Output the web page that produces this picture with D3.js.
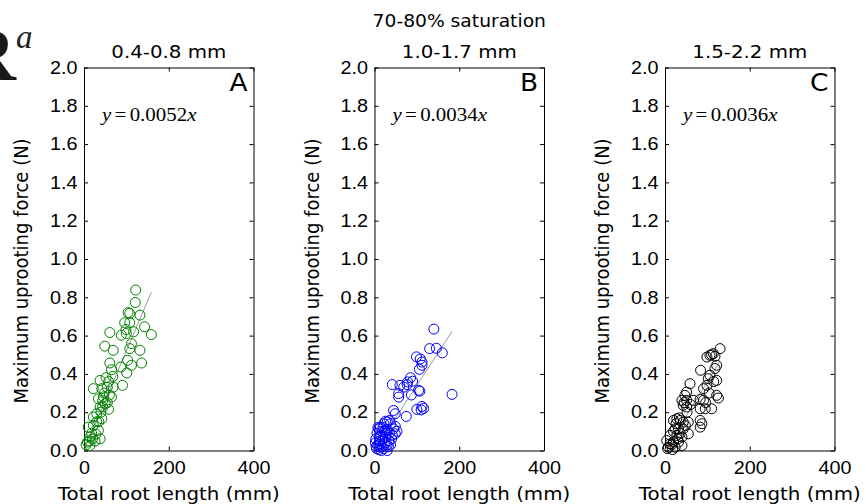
<!DOCTYPE html>
<html lang="en">
<head>
<meta charset="utf-8">
<script src="https://d3js.org/d3.v7.min.js"></script>
<style>
  body { margin: 0; background: #fff; }
  svg { display: block; background: #fff; font-family: "DejaVu Sans", sans-serif; }
  .frame path, .frame line { stroke: #000; stroke-width: 1; }
  .frame text { font-size: 18px; fill: #000; }
</style>
</head>
<body>
<svg width="866" height="504"></svg>
<script>
// ---- data ----
var supTitle = "70-80% saturation";
var diameters = ["0.4-0.8 mm", "1.0-1.7 mm", "1.5-2.2 mm"];
var letters = ["A", "B", "C"];
var slopes = [0.0052, 0.0034, 0.0036];
var xTicks = [0, 200, 400];
var yTicks = [0, 0.2, 0.4, 0.6, 0.8, 1.0, 1.2, 1.4, 1.6, 1.8, 2.0];
var xLabel = "Total root length (mm)";
var yLabel = "Maximum uprooting force (N)";

// root length (mm), force (N)
var pointsA = [
  [122,0.838],[121,0.773],[104,0.72],[108,0.716],[132,0.707],[96,0.667],[108,0.668],
  [143,0.646],[99,0.632],[61,0.616],[159,0.605],[88,0.602],[100,0.611],[117,0.62],
  [49,0.545],[69,0.523],[108,0.532],[132,0.523],[112,0.558],[61,0.457],[103,0.471],
  [136,0.457],[65,0.422],[87,0.436],[112,0.445],[101,0.405],[68,0.387],[52,0.38],
  [38,0.366],[58,0.36],[69,0.331],[91,0.34],[55,0.33],[42,0.323],[22,0.323],[48,0.3],
  [60,0.29],[34,0.27],[65,0.279],[44,0.26],[50,0.245],[38,0.227],[44,0.227],[58,0.215],
  [30,0.192],[22,0.175],[42,0.166],[35,0.15],[10,0.122],[22,0.131],[34,0.105],[18,0.09],
  [14,0.07],[38,0.061],[8,0.044],[26,0.049],[14,0.026],[5,0.03],[20,0.06],[28,0.085],
  [46,0.28],[55,0.25],[40,0.2],[30,0.15],[12,0.05]
];
var pointsB = [
  [140,0.634],[130,0.532],[146,0.534],[160,0.51],[99,0.489],[108,0.478],[112,0.462],
  [112,0.445],[106,0.424],[85,0.38],[90,0.362],[78,0.358],[42,0.344],[60,0.34],[69,0.331],
  [77,0.344],[104,0.314],[183,0.293],[57,0.297],[57,0.279],[87,0.29],[107,0.31],[45,0.209],
  [49,0.192],[75,0.178],[100,0.215],[112,0.23],[116,0.22],[110,0.212],[30,0.15],[22,0.14],
  [38,0.14],[10,0.113],[45,0.113],[49,0.087],[36,0.157],[26,0.153],[14,0.122],[30,0.11],
  [49,0.126],[53,0.1],[34,0.052],[33,0.02],[5,0.01],[8,0.03],[12,0.05],[15,0.08],[18,0.02],
  [20,0.06],[25,0.04],[28,0.09],[3,0.06],[6,0.09],[10,0.005],[14,0.035],[22,0.01],[26,0.07],
  [30,0.03],[18,0.1],[12,0.07],[40,0.06],[35,0.09],[4,0.02],[8,0.12],[20,0.12],[16,0.0],
  [24,0.1],[42,0.08],[2,0.04],[30,0.0],[38,0.03]
];
var pointsC = [
  [130,0.532],[114,0.506],[106,0.497],[99,0.488],[118,0.492],[110,0.5],[122,0.445],
  [118,0.428],[84,0.419],[106,0.393],[102,0.375],[122,0.366],[59,0.349],[99,0.34],[91,0.323],
  [51,0.305],[47,0.288],[122,0.288],[40,0.262],[51,0.262],[67,0.262],[83,0.267],[91,0.262],
  [126,0.274],[43,0.236],[51,0.227],[83,0.218],[95,0.218],[110,0.218],[28,0.166],[20,0.157],
  [36,0.157],[43,0.148],[55,0.148],[83,0.157],[87,0.14],[83,0.122],[24,0.113],[32,0.113],
  [43,0.113],[55,0.087],[12,0.079],[28,0.079],[40,0.07],[4,0.052],[20,0.044],[32,0.044],
  [8,0.017],[24,0.017],[40,0.026],[16,0.03],[30,0.06],[36,0.09],[12,0.035],[20,0.1],
  [48,0.13],[26,0.14],[34,0.17],[6,0.01],[18,0.005],[45,0.25],[60,0.24],[52,0.2],
  [96,0.25],[104,0.3],[115,0.36]
];
var panelPoints = [pointsA, pointsB, pointsC];

// ---- styles / layout ----
var markColors = ["#008000", "#0000ff", "#000000"];
var panelLeft = [84, 374.5, 665];
var panelW = 169.5, plotTop = 67.5, plotBottom = 450.5;
var sx = 1.1; // reference type is a bit wide

var svg = d3.select("svg");

function stretch(sel) {
  sel.attr("transform", function () {
    var t = d3.select(this).attr("transform") || "";
    return t + " scale(" + sx + ",1)";
  });
}

// page fragment in the top-left corner
svg.append("text")
  .attr("x", 16).attr("y", 80)
  .attr("text-anchor", "end")
  .style("font-family", "'Liberation Serif', serif")
  .style("font-weight", "bold")
  .style("font-size", "76px")
  .attr("fill", "#1a1a1a")
  .text("R");
svg.append("text")
  .attr("x", 16).attr("y", 48)
  .style("font-family", "'Liberation Serif', serif")
  .style("font-style", "italic")
  .style("font-size", "33px")
  .attr("fill", "#222")
  .text("a");

// super title over the middle panel
svg.append("text")
  .attr("transform", "translate(" + (panelLeft[1] + panelW / 2) + ",27) scale(" + sx + ",1)")
  .attr("text-anchor", "middle")
  .style("font-size", "17px")
  .text(supTitle);

panelPoints.forEach(function (pts, i) {
  var x = d3.scaleLinear().domain([0, 400]).range([panelLeft[i], panelLeft[i] + panelW]);
  var y = d3.scaleLinear().domain([0, 2]).range([plotBottom, plotTop]);
  var g = svg.append("g");

  // frame and ticks (inside)
  var left = g.append("g").attr("class", "frame")
    .attr("transform", "translate(" + x(0) + ",0)")
    .call(d3.axisLeft(y).tickValues(yTicks).tickFormat(d3.format(".1f"))
      .tickSizeInner(-4).tickSizeOuter(0).tickPadding(6));
  left.selectAll("text").each(function () { stretch(d3.select(this)); });

  var bot = g.append("g").attr("class", "frame")
    .attr("transform", "translate(0," + y(0) + ")")
    .call(d3.axisBottom(x).tickValues(xTicks).tickFormat(d3.format("d"))
      .tickSizeInner(-4).tickSizeOuter(0).tickPadding(10.5));
  bot.selectAll("text").each(function () { stretch(d3.select(this)); });

  g.append("g").attr("class", "frame")
    .attr("transform", "translate(" + x(400) + ",0)")
    .call(d3.axisRight(y).tickValues(yTicks).tickFormat("").tickSizeInner(-4).tickSizeOuter(0));
  g.append("g").attr("class", "frame")
    .attr("transform", "translate(0," + y(2) + ")")
    .call(d3.axisTop(x).tickValues(xTicks).tickFormat("").tickSizeInner(-4).tickSizeOuter(0));

  // fitted line through the origin
  var xmax = d3.max(pts, function (d) { return d[0]; });
  g.append("line")
    .attr("x1", x(0)).attr("y1", y(0))
    .attr("x2", x(xmax)).attr("y2", y(slopes[i] * xmax))
    .attr("stroke", "#999").attr("stroke-width", 1);

  // scatter
  g.selectAll("circle.pt")
    .data(pts)
    .enter()
    .append("circle")
    .attr("class", "pt")
    .attr("cx", function (d) { return x(d[0]); })
    .attr("cy", function (d) { return y(d[1]); })
    .attr("r", 5)
    .attr("fill", "none")
    .attr("stroke", markColors[i])
    .attr("stroke-width", 1);

  // panel title
  g.append("text")
    .attr("transform", "translate(" + x(200) + ",58) scale(" + sx + ",1)")
    .attr("text-anchor", "middle")
    .style("font-size", "18px")
    .text(diameters[i]);

  // panel letter
  g.append("text")
    .attr("transform", "translate(" + (x(400) - 6) + ",91) scale(" + sx + ",1)")
    .attr("text-anchor", "end")
    .style("font-size", "24px")
    .text(letters[i]);

  // fit equation
  var eq = g.append("text")
    .attr("transform", "translate(" + (x(0) + 18) + ",121) scale(" + sx + ",1)")
    .style("font-family", "'Liberation Serif', serif")
    .style("font-size", "19px");
  eq.append("tspan").style("font-style", "italic").text("y");
  eq.append("tspan").attr("dx", 3).text("=");
  eq.append("tspan").attr("dx", 3).text(d3.format(".4f")(slopes[i]));
  eq.append("tspan").style("font-style", "italic").text("x");

  // axis labels
  g.append("text")
    .attr("transform", "translate(" + x(200) + ",500) scale(" + sx + ",1)")
    .attr("text-anchor", "middle")
    .style("font-size", "18px")
    .text(xLabel);
  g.append("text")
    .attr("transform", "translate(" + (x(0) - 56) + "," + ((plotTop + plotBottom) / 2 + 12) + ") scale(" + sx + ",1) rotate(-90)")
    .attr("text-anchor", "middle")
    .style("font-size", "18px")
    .text(yLabel);
});
</script>
</body>
</html>
